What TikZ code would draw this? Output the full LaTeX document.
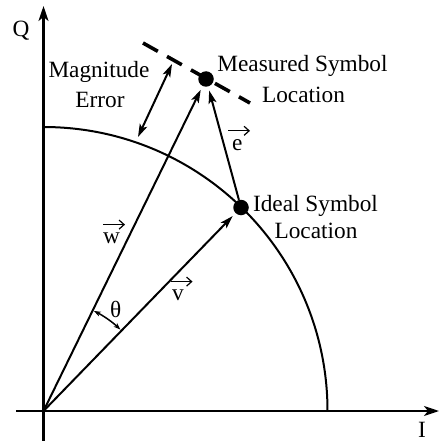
\documentclass[tikz,border=0pt]{standalone}
\usepackage{fontspec}
\setmainfont{Liberation Serif}
\usetikzlibrary{arrows.meta}
\begin{document}
\begin{tikzpicture}[x=1pt,y=-1pt,
  every node/.style={font=\fontsize{23.3}{28}\selectfont},
  txt/.style={inner sep=0pt, anchor=base},
  axisline/.style={line width=2.2pt, -{Stealth[length=15pt,width=10pt,inset=4pt]}},
  vecline/.style={line width=2pt, shorten >=4pt, -{Stealth[length=13pt,width=8pt,inset=3pt]}},
  dbl/.style={line width=2pt, {Stealth[length=13pt,width=8pt,inset=3pt]}-{Stealth[length=13pt,width=8pt,inset=3pt]}},
  thetaarc/.style={line width=1.5pt, {Stealth[length=7pt,width=5pt,inset=2pt]}-{Stealth[length=7pt,width=5pt,inset=2pt]}},
  dotnode/.style={circle, fill=black, inner sep=0pt, minimum size=15.5pt},
  tangent/.style={line width=3.6pt, dash pattern=on 17pt off 10.5pt},
  vecmark/.style={line width=1.2pt, -{Straight Barb[length=5pt,width=9pt]}}
]
\useasboundingbox (0,0) rectangle (439,441);
% coordinates
\coordinate (O) at (43.5,411);
\coordinate (xs) at (16,411);
\coordinate (xe) at (439,411);
\coordinate (ys) at (43.5,441);
\coordinate (ye) at (43.5,6);
\coordinate (d1) at (143,43);
\coordinate (d2) at (250,103);
\coordinate (m1) at (138,137);
\coordinate (m2) at (172,64);
% axes
\draw[axisline] (xs) -- (xe);
\draw[axisline] (ys) -- (ye);
% quarter circle
\draw[line width=2pt] (43.5,127) arc[start angle=-90, end angle=0, radius=284];
% dashed tangent
\draw[tangent] (d1) -- (d2);
% dots
\node[dotnode] (meas) at (206,79) {};
\node[dotnode] (ideal) at (241,207.5) {};
% vectors
\draw[vecline] (O) -- (meas);
\draw[vecline] (O) -- (ideal);
\draw[vecline] (ideal) -- (meas);
% magnitude error arrow
\draw[dbl] (m1) -- (m2);
% theta arc
\draw[thetaarc] ([shift={(-63.3:112)}]O) arc[start angle=-63.3, end angle=-46.6, radius=112];
% labels
\node[txt] (lq) at (21,37) {Q};
\node[txt] (li) at (422,437) {I};
\node[txt] (lmag1) at (99,78) {Magnitude};
\node[txt] (lmag2) at (100,107.5) {Error};
\node[txt] (lmeas1) at (302.5,72) {Measured Symbol};
\node[txt] (lmeas2) at (303.5,102.3) {Location};
\node[txt] (lid1) at (315.5,211) {Ideal Symbol};
\node[txt] (lid2) at (316,238) {Location};
\node[txt, anchor=base west] (lw) at (103,243) {w};
\node[txt, anchor=base west] (lv) at (172,300) {v};
\node[txt, anchor=base west] (le) at (232,150) {e};
\node[txt, anchor=base west] (lth) at (110,317) {θ};
% vector marks above letters
\draw[vecmark] ([yshift=7.5pt]lw.north west) -- ++(22,0);
\draw[vecmark] ([xshift=-1.5pt,yshift=7.5pt]lv.north west) -- ++(22,0);
\draw[vecmark] ([xshift=-4pt,yshift=8pt]le.north west) -- ++(22,0);
\end{tikzpicture}
\end{document}
